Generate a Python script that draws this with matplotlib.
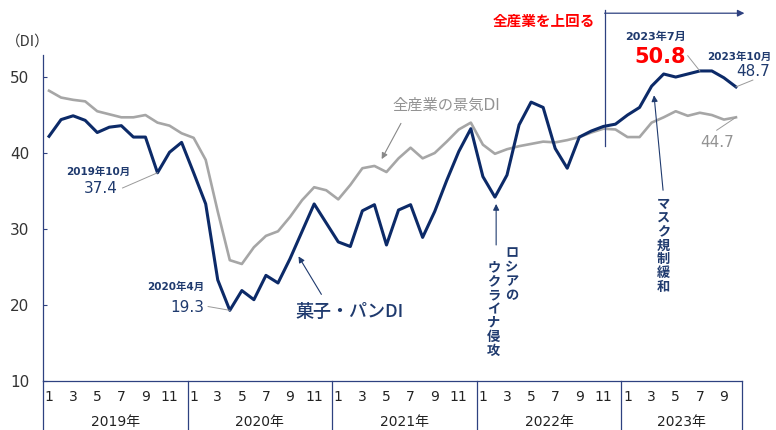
import matplotlib
matplotlib.use('Agg')
import matplotlib.pyplot as plt
import matplotlib.transforms as mtransforms

plt.rcParams['font.family'] = ['DejaVu Sans', 'Noto Sans CJK JP']

# 2019年1月 〜 2023年10月（月次）
years = ['2019年', '2020年', '2021年', '2022年', '2023年']
months_per_year = [12, 12, 12, 12, 10]
month_labels = ['1', '3', '5', '7', '9', '11']

# 菓子・パンDI
kashi_pan = [42.2, 44.4, 44.9, 44.3, 42.7, 43.4, 43.6, 42.1, 42.1, 37.4, 40.1, 41.4,
             37.4, 33.3, 23.3, 19.3, 21.9, 20.7, 23.9, 22.9, 26.1, 29.7, 33.3, 30.8,
             28.3, 27.7, 32.4, 33.2, 27.9, 32.5, 33.2, 28.9, 32.3, 36.4, 40.2, 43.2,
             36.9, 34.2, 37.1, 43.7, 46.7, 46.0, 40.6, 38.0, 42.1, 42.9, 43.5, 43.8,
             45.0, 46.0, 48.8, 50.4, 50.0, 50.4, 50.8, 50.8, 49.9, 48.7]

# 全産業の景気DI
all_ind = [48.2, 47.3, 47.0, 46.8, 45.5, 45.1, 44.7, 44.7, 45.0, 44.0, 43.6, 42.6,
           42.0, 39.1, 32.3, 25.9, 25.4, 27.6, 29.1, 29.7, 31.6, 33.8, 35.5, 35.1,
           33.9, 35.8, 38.0, 38.3, 37.5, 39.3, 40.7, 39.3, 40.0, 41.5, 43.1, 44.0,
           41.1, 39.9, 40.5, 40.9, 41.2, 41.5, 41.4, 41.7, 42.1, 42.7, 43.2, 43.1,
           42.1, 42.1, 44.0, 44.7, 45.5, 44.9, 45.3, 45.0, 44.4, 44.7]

navy = '#0c2a68'
navy_txt = '#1f3a6e'
axis_c = '#2e4180'
gray = '#a6a6a6'
gray_txt = '#939393'
lead_c = '#9a9a9a'

x = list(range(len(kashi_pan)))

fig = plt.figure(figsize=(7.76, 4.30), dpi=100)
ax = fig.add_axes([43 / 776, 49 / 430, 699 / 776, 326 / 430])

ax.plot(x, all_ind, color=gray, lw=1.9, zorder=2)
ax.plot(x, kashi_pan, color=navy, lw=2.2, zorder=3)

ax.set_xlim(-0.5, len(x) - 0.5)
ax.set_ylim(10, 52.9)
ax.set_yticks([10, 20, 30, 40, 50])
ax.set_xticks([])
ax.tick_params(axis='y', direction='in', length=3, width=0.8, color=axis_c,
               labelsize=11, labelcolor='#333333', pad=10)
for s in ['top', 'right']:
    ax.spines[s].set_visible(False)
ax.spines['left'].set_color(axis_c)
ax.spines['bottom'].set_color(axis_c)
ax.spines['left'].set_linewidth(0.9)
ax.spines['bottom'].set_linewidth(0.9)

fig.text(28 / 776, 1 - 42 / 430, '（DI）', ha='center', va='center',
         fontsize=10.5, color='#333333', family='Noto Sans CJK JP')

# x軸：月・年ラベルと区切り線
trans = mtransforms.blended_transform_factory(ax.transData, ax.transAxes)
start = 0
ax.plot([-0.5, -0.5], [0, -0.16], color=axis_c, lw=0.9, transform=trans, clip_on=False)
for yr, n in zip(years, months_per_year):
    for m in range(0, n, 2):
        ax.text(start + m, -0.049, month_labels[m // 2], transform=trans,
                ha='center', va='center', fontsize=10, color='#222222')
    ax.text(start + (n - 1) / 2, -0.126, yr, transform=trans, ha='center', va='center',
            fontsize=10, color='#222222')
    end = start + n - 0.5
    ax.plot([end, end], [0, -0.16], color=axis_c, lw=0.9, transform=trans, clip_on=False)
    start += n

# 注記
def leader(x0, y0, x1, y1):
    ax.plot([x0, x1], [y0, y1], color=lead_c, lw=0.7, zorder=4, clip_on=False)

ax.text(4.1, 37.5, '2019年10月', ha='center', va='center', fontsize=7.5,
        color=navy_txt, fontweight='bold')
ax.text(4.3, 35.3, '37.4', ha='center', va='center', fontsize=11, color=navy_txt)
leader(6.1, 35.4, 9, kashi_pan[9])

ax.text(10.5, 22.4, '2020年4月', ha='center', va='center', fontsize=7.5,
        color=navy_txt, fontweight='bold')
ax.text(11.5, 19.7, '19.3', ha='center', va='center', fontsize=11, color=navy_txt)
leader(13.2, 19.8, 15, kashi_pan[15])

ax.text(24.9, 19.1, '菓子・パンDI', ha='center', va='center', fontsize=13,
        color=navy_txt, fontweight='medium', family='Noto Sans CJK JP')
ax.annotate('', xy=(20.7, 26.4), xytext=(22.6, 21.4),
            arrowprops=dict(arrowstyle='-|>', color=navy_txt, lw=0.8,
                            mutation_scale=9, shrinkA=0, shrinkB=0))

ax.text(33.0, 46.3, '全産業の景気DI', ha='center', va='center', fontsize=11,
        color=gray_txt)
ax.annotate('', xy=(27.6, 39.2), xytext=(29.2, 43.9),
            arrowprops=dict(arrowstyle='-|>', color='#888888', lw=0.8,
                            mutation_scale=9, shrinkA=0, shrinkB=0))

ax.text(38.4, 27.6, '\n'.join('ロシアの'), ha='center', va='top', fontsize=9.5,
        color=navy_txt, fontweight='bold', linespacing=1.08)
ax.text(36.9, 25.7, '\n'.join('ウクライナ侵攻'), ha='center', va='top', fontsize=9.5,
        color=navy_txt, fontweight='bold', linespacing=1.08)
ax.annotate('', xy=(37.1, 33.3), xytext=(37.1, 27.9),
            arrowprops=dict(arrowstyle='-|>', color=navy_txt, lw=0.8,
                            mutation_scale=9, shrinkA=0, shrinkB=0))

ax.text(51.0, 34.1, '\n'.join('マスク規制緩和'), ha='center', va='top', fontsize=9.5,
        color=navy_txt, fontweight='bold', linespacing=1.08)
ax.annotate('', xy=(50.2, 47.6), xytext=(50.95, 35.1),
            arrowprops=dict(arrowstyle='-|>', color=navy_txt, lw=0.8,
                            mutation_scale=9, shrinkA=0, shrinkB=0))

ax.text(41.1, 57.4, '全産業を上回る', ha='center', va='center', fontsize=10.5,
        color='#ff0000', fontweight='bold', clip_on=False)
ax.plot([46.1, 46.1], [40.9, 58.8], color=axis_c, lw=0.9, clip_on=False)
ax.annotate('', xy=(57.7, 58.4), xytext=(46.1, 58.4), annotation_clip=False,
            arrowprops=dict(arrowstyle='-|>', color=axis_c, lw=0.9,
                            mutation_scale=10, shrinkA=0, shrinkB=0))

ax.text(50.3, 55.3, '2023年7月', ha='center', va='center', fontsize=8,
        color=navy_txt, fontweight='bold', clip_on=False)
ax.text(50.7, 52.6, '50.8', ha='center', va='center', fontsize=15,
        color='#ff0000', fontweight='bold', clip_on=False)
leader(53.0, 52.8, 54, kashi_pan[54])

ax.text(57.3, 52.6, '2023年10月', ha='center', va='center', fontsize=7.5,
        color=navy_txt, fontweight='bold', clip_on=False)
ax.text(58.4, 50.7, '48.7', ha='center', va='center', fontsize=11,
        color=navy_txt, clip_on=False)
leader(57, kashi_pan[57], 58.4, 49.6)

ax.text(55.4, 41.4, '44.7', ha='center', va='center', fontsize=11, color=gray_txt)
leader(55.4, 43.0, 57, all_ind[57])

fig.savefig('out.png', dpi=100)
